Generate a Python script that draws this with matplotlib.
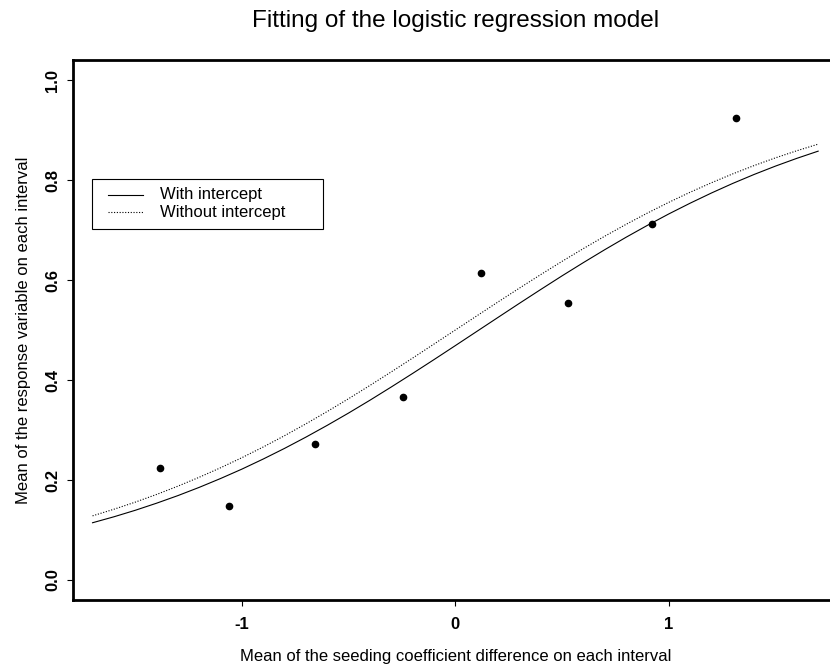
import matplotlib.pyplot as plt
from matplotlib.patches import Rectangle

plt.rcParams['font.family'] = ['Liberation Sans', 'DejaVu Sans']

# observed means on each interval (points)
x_points = [-1.384, -1.061, -0.659, -0.247, 0.120, 0.530, 0.920, 1.314]
y_points = [0.225, 0.149, 0.272, 0.367, 0.615, 0.555, 0.713, 0.925]

# fitted curves, every 0.1
x_curve = [-1.7, -1.6, -1.5, -1.4, -1.3, -1.2, -1.1, -1.0, -0.9, -0.8, -0.7, -0.6,
           -0.5, -0.4, -0.3, -0.2, -0.1, 0.0, 0.1, 0.2, 0.3, 0.4, 0.5, 0.6,
           0.7, 0.8, 0.9, 1.0, 1.1, 1.2, 1.3, 1.4, 1.5, 1.6, 1.7]
y_with = [0.1145, 0.1264, 0.1394, 0.1536, 0.1688, 0.1853, 0.2030, 0.2218, 0.2420,
          0.2633, 0.2858, 0.3094, 0.3340, 0.3596, 0.3861, 0.4132, 0.4408, 0.4688,
          0.4970, 0.5252, 0.5533, 0.5810, 0.6083, 0.6348, 0.6606, 0.6855, 0.7093,
          0.7321, 0.7536, 0.7740, 0.7932, 0.8111, 0.8278, 0.8433, 0.8577]
y_without = [0.1283, 0.1415, 0.1557, 0.1711, 0.1877, 0.2055, 0.2245, 0.2447, 0.2661,
             0.2887, 0.3124, 0.3371, 0.3627, 0.3892, 0.4163, 0.4439, 0.4719, 0.5000,
             0.5281, 0.5561, 0.5837, 0.6108, 0.6373, 0.6629, 0.6876, 0.7113, 0.7339,
             0.7553, 0.7755, 0.7945, 0.8123, 0.8289, 0.8443, 0.8585, 0.8717]

x_ticks = [-1, 0, 1]
y_ticks = [0.0, 0.2, 0.4, 0.6, 0.8, 1.0]
legend_labels = ['With intercept', 'Without intercept']

dotted = (0, (1, 1.5))

fig = plt.figure(figsize=(8.3, 6.64), dpi=100)
ax = fig.add_axes([72.7 / 830, 64 / 664, 765.3 / 830, 540 / 664])

ax.plot(x_points, y_points, 'o', color='black', markersize=4.5)
ax.plot(x_curve, y_with, '-', color='black', linewidth=0.8)
ax.plot(x_curve, y_without, linestyle=dotted, color='black', linewidth=0.8)

ax.set_xlim(-1.793, 1.793)
ax.set_ylim(-0.04, 1.04)
ax.set_xticks(x_ticks)
ax.set_xticklabels([str(t) for t in x_ticks], fontweight='bold', fontsize=12)
ax.set_yticks(y_ticks)
ax.set_yticklabels([f"{t:.1f}" for t in y_ticks], fontweight='bold', fontsize=12,
                   rotation=90, va='center')
ax.tick_params(direction='out', length=4.5, width=0.8)
ax.tick_params(axis='x', pad=8)
ax.tick_params(axis='y', pad=4.5)

for sp in ax.spines.values():
    sp.set_linewidth(2)

ax.set_xlabel("Mean of the seeding coefficient difference on each interval",
              fontsize=12, labelpad=12)
ax.set_ylabel("Mean of the response variable on each interval", fontsize=12,
              labelpad=10.5)
ax.set_title("Fitting of the logistic regression model", fontsize=17.5, pad=24)

# legend box drawn like R's legend()
ax.add_patch(Rectangle((0.0256, 0.6865), 0.3011, 0.0931, transform=ax.transAxes,
                       facecolor='white', edgecolor='black', linewidth=0.8, zorder=5))
for row_y, lab, ls in zip([0.750, 0.718], legend_labels, ['-', dotted]):
    ax.plot([0.0462, 0.0919], [row_y, row_y], transform=ax.transAxes, color='black',
            linestyle=ls, linewidth=0.8, zorder=6)
    ax.text(0.1140, row_y, lab, transform=ax.transAxes, fontsize=12, va='center',
            ha='left', zorder=6)

fig.savefig('out.png', dpi=100)
